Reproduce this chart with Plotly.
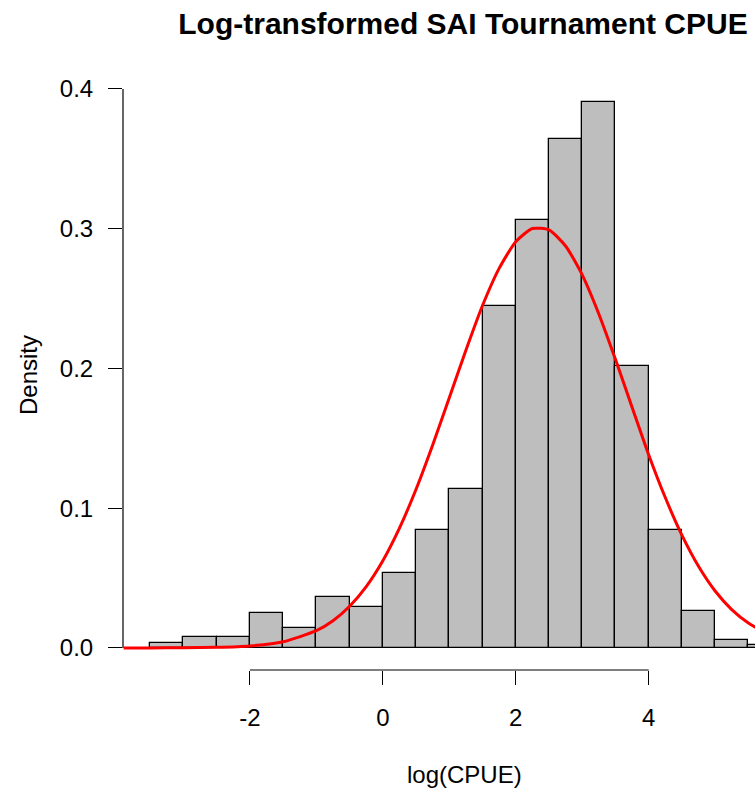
import plotly.graph_objects as go

# Histogram bins (left edges) and densities
bin_left = [-3.5, -3.0, -2.5, -2.0, -1.5, -1.0, -0.5, 0.0, 0.5, 1.0, 1.5, 2.0, 2.5, 3.0, 3.5, 4.0, 4.5, 5.0, 5.5]
density = [0.0036, 0.0079, 0.0079, 0.025, 0.0143, 0.0366, 0.0294, 0.0538, 0.0846, 0.114, 0.245, 0.306, 0.364, 0.391, 0.2014, 0.0846, 0.0265, 0.0057, 0.002]
bin_width = 0.5

# Red fitted density curve
curve_x = [-3.9, -3.5, -3.0, -2.5, -2.0, -1.5, -1.0, -0.75, -0.5, -0.25, 0.0, 0.25, 0.5, 0.75, 1.0, 1.25, 1.5,
           1.75, 2.0, 2.25, 2.5, 2.75, 3.0, 3.25, 3.5, 3.75, 4.0, 4.25, 4.5, 4.75, 5.0, 5.25, 5.5, 5.75]
curve_y = [0.0, 0.0, 0.0001, 0.0004, 0.0014, 0.0044, 0.0123, 0.0194, 0.0298, 0.0439, 0.0624, 0.0857, 0.1135,
           0.1452, 0.179, 0.213, 0.245, 0.2716, 0.2907, 0.3001, 0.2991, 0.2876, 0.267, 0.239, 0.2065, 0.1723,
           0.1383, 0.1076, 0.0807, 0.0584, 0.0407, 0.0274, 0.0178, 0.0112]

x_ticks = [-2, 0, 2, 4]
y_ticks = [0.0, 0.1, 0.2, 0.3, 0.4]

title = "Log-transformed SAI Tournament CPUE"
x_title = "log(CPUE)"
y_title = "Density"

FONT = "Liberation Sans, Arial, sans-serif"

W, H = 755, 794
L, T, B_PIX = 123, 67, 670
PW, PH = W - L, B_PIX - T

centers = [b + bin_width / 2 for b in bin_left]

fig = go.Figure()
fig.add_trace(go.Bar(x=centers, y=density, width=bin_width,
                     marker=dict(color="#BEBEBE", line=dict(color="black", width=1.3)),
                     showlegend=False, hoverinfo="skip"))
fig.add_trace(go.Scatter(x=curve_x, y=curve_y, mode="lines",
                         line=dict(color="#FF0000", width=3, shape="spline", smoothing=0.6),
                         showlegend=False, hoverinfo="skip"))

# R-style axis lines spanning only the tick range
fig.add_shape(type="line", xref="x", yref="paper", x0=min(x_ticks), x1=max(x_ticks), y0=0, y1=0,
              line=dict(color="black", width=1.2))
fig.add_shape(type="line", xref="paper", yref="y", x0=0, x1=0, y0=min(y_ticks), y1=max(y_ticks),
              line=dict(color="black", width=1.2))

fig.update_layout(
    width=W, height=H,
    margin=dict(l=L, r=0, t=T, b=H - B_PIX),
    paper_bgcolor="white", plot_bgcolor="white",
    font=dict(family=FONT, size=24, color="black"),
    bargap=0,
    title=dict(text="<b>" + title + "</b>", x=463 / W, xanchor="center",
               y=1 - 23 / H, yanchor="middle", font=dict(size=30, family=FONT, color="black")),
    xaxis=dict(range=[-3.91, 5.6], tickvals=x_ticks, ticktext=[str(v) for v in x_ticks],
               ticks="outside", ticklen=14, tickwidth=1.2, tickcolor="black", ticklabelstandoff=12,
               showgrid=False, zeroline=False, showline=False, fixedrange=True),
    yaxis=dict(range=[-0.0158, 0.4157], tickvals=y_ticks, ticktext=["%.1f" % v for v in y_ticks],
               ticks="outside", ticklen=14, tickwidth=1.2, tickcolor="black", ticklabelstandoff=10,
               showgrid=False, zeroline=False, showline=False, fixedrange=True),
    annotations=[
        dict(text=x_title, xref="paper", yref="paper", x=(464 - L) / PW,
             y=(B_PIX - 774) / PH, xanchor="center", yanchor="middle", showarrow=False,
             font=dict(size=24, family=FONT)),
        dict(text=y_title, xref="paper", yref="paper", x=(28 - L) / PW, y=(B_PIX - 375) / PH,
             xanchor="center", yanchor="middle", textangle=-90, showarrow=False,
             font=dict(size=24, family=FONT)),
    ],
)

fig.write_html("out.html", config={"displayModeBar": False},
               post_script="document.body.style.margin='0px';document.body.style.overflow='hidden';")
